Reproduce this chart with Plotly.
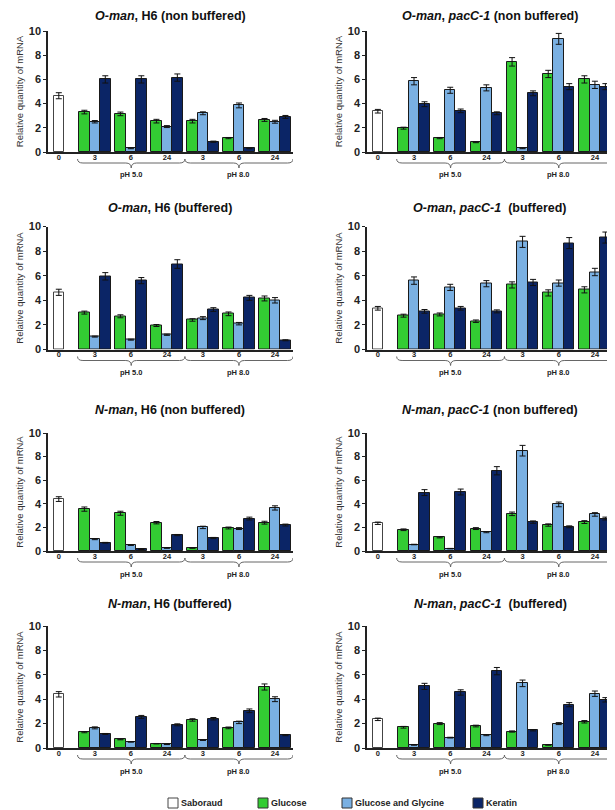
import plotly.graph_objects as go

# the page body has an 8px margin: window px = figure px + 8
OFF = 8
W, H = 615 - OFF, 810 - OFF

# ---------------- data ----------------
time_labels = ["0", "3", "6", "24", "3", "6", "24"]
ph_labels = ["pH 5.0", "pH 8.0"]
series_names = ["Saboraud", "Glucose", "Glucose and Glycine", "Keratin"]

panel_titles = [
    "<i>O-man</i>, H6 (non buffered)",
    "<i>O-man</i>, <i>pacC-1</i> (non buffered)",
    "<i>O-man</i>, H6 (buffered)",
    "<i>O-man</i>, <i>pacC-1</i>  (buffered)",
    "<i>N-man</i>, H6 (non buffered)",
    "<i>N-man</i>, <i>pacC-1</i> (non buffered)",
    "<i>N-man</i>, H6 (buffered)",
    "<i>N-man</i>, <i>pacC-1</i>  (buffered)",
]

# O-man, H6 (non buffered)
oman_h6_nb_sab = [4.65]
oman_h6_nb_sab_err = [0.25]
oman_h6_nb_glc = [3.3, 3.15, 2.55, 2.55, 1.15, 2.65]
oman_h6_nb_glc_err = [0.15, 0.15, 0.15, 0.15, 0.05, 0.12]
oman_h6_nb_gly = [2.5, 0.3, 2.1, 3.2, 3.85, 2.5]
oman_h6_nb_gly_err = [0.1, 0.03, 0.08, 0.12, 0.2, 0.12]
oman_h6_nb_ker = [6.0, 6.0, 6.15, 0.85, 0.3, 2.9]
oman_h6_nb_ker_err = [0.3, 0.3, 0.3, 0.05, 0.03, 0.12]

# O-man, pacC-1 (non buffered)
oman_pac_nb_sab = [3.37]
oman_pac_nb_sab_err = [0.15]
oman_pac_nb_glc = [1.97, 1.15, 0.8, 7.45, 6.45, 6.0]
oman_pac_nb_glc_err = [0.08, 0.05, 0.03, 0.35, 0.3, 0.3]
oman_pac_nb_gly = [5.85, 5.1, 5.3, 0.3, 9.35, 5.55]
oman_pac_nb_gly_err = [0.3, 0.25, 0.25, 0.03, 0.45, 0.3]
oman_pac_nb_ker = [3.95, 3.4, 3.2, 4.85, 5.4, 5.4]
oman_pac_nb_ker_err = [0.2, 0.15, 0.12, 0.2, 0.25, 0.25]

# O-man, H6 (buffered)
oman_h6_b_sab = [4.65]
oman_h6_b_sab_err = [0.25]
oman_h6_b_glc = [3.0, 2.7, 1.95, 2.4, 2.9, 4.15]
oman_h6_b_glc_err = [0.12, 0.12, 0.08, 0.1, 0.15, 0.2]
oman_h6_b_gly = [1.05, 0.8, 1.2, 2.55, 2.1, 4.0]
oman_h6_b_gly_err = [0.04, 0.04, 0.05, 0.12, 0.1, 0.22]
oman_h6_b_ker = [5.95, 5.6, 6.95, 3.25, 4.2, 0.75]
oman_h6_b_ker_err = [0.3, 0.25, 0.35, 0.15, 0.2, 0.04]

# O-man, pacC-1 (buffered)
oman_pac_b_sab = [3.35]
oman_pac_b_sab_err = [0.15]
oman_pac_b_glc = [2.75, 2.85, 2.3, 5.25, 4.6, 4.85]
oman_pac_b_glc_err = [0.12, 0.12, 0.1, 0.25, 0.25, 0.25]
oman_pac_b_gly = [5.6, 5.05, 5.35, 8.75, 5.4, 6.3]
oman_pac_b_gly_err = [0.3, 0.25, 0.25, 0.45, 0.25, 0.3]
oman_pac_b_ker = [3.1, 3.35, 3.1, 5.45, 8.65, 9.1]
oman_pac_b_ker_err = [0.15, 0.15, 0.12, 0.25, 0.45, 0.45]

# N-man, H6 (non buffered)
nman_h6_nb_sab = [4.4]
nman_h6_nb_sab_err = [0.2]
nman_h6_nb_glc = [3.55, 3.2, 2.4, 0.25, 1.95, 2.4]
nman_h6_nb_glc_err = [0.18, 0.17, 0.1, 0.02, 0.08, 0.12]
nman_h6_nb_gly = [1.0, 0.5, 0.25, 2.0, 1.9, 3.65]
nman_h6_nb_gly_err = [0.04, 0.03, 0.02, 0.1, 0.08, 0.18]
nman_h6_nb_ker = [0.7, 0.15, 1.35, 1.1, 2.75, 2.2]
nman_h6_nb_ker_err = [0.03, 0.02, 0.05, 0.05, 0.12, 0.08]

# N-man, pacC-1 (non buffered)
nman_pac_nb_sab = [2.35]
nman_pac_nb_sab_err = [0.1]
nman_pac_nb_glc = [1.8, 1.15, 1.9, 3.15, 2.2, 2.45]
nman_pac_nb_glc_err = [0.07, 0.04, 0.08, 0.15, 0.1, 0.12]
nman_pac_nb_gly = [0.55, 0.2, 1.6, 8.5, 3.95, 3.1]
nman_pac_nb_gly_err = [0.02, 0.02, 0.05, 0.45, 0.2, 0.15]
nman_pac_nb_ker = [4.95, 5.0, 6.8, 2.45, 2.05, 2.75]
nman_pac_nb_ker_err = [0.25, 0.25, 0.35, 0.1, 0.08, 0.12]

# N-man, H6 (buffered)
nman_h6_b_sab = [4.4]
nman_h6_b_sab_err = [0.22]
nman_h6_b_glc = [1.3, 0.7, 0.35, 2.3, 1.65, 5.0]
nman_h6_b_glc_err = [0.05, 0.03, 0.02, 0.1, 0.07, 0.25]
nman_h6_b_gly = [1.65, 0.5, 0.3, 0.65, 2.1, 4.0]
nman_h6_b_gly_err = [0.08, 0.02, 0.02, 0.03, 0.1, 0.2]
nman_h6_b_ker = [1.15, 2.55, 1.9, 2.4, 3.05, 1.05]
nman_h6_b_ker_err = [0.04, 0.12, 0.08, 0.1, 0.15, 0.04]

# N-man, pacC-1 (buffered)
nman_pac_b_sab = [2.35]
nman_pac_b_sab_err = [0.1]
nman_pac_b_glc = [1.7, 2.0, 1.8, 1.35, 0.25, 2.15]
nman_pac_b_glc_err = [0.07, 0.08, 0.07, 0.05, 0.02, 0.1]
nman_pac_b_gly = [0.25, 0.85, 1.05, 5.3, 2.0, 4.45]
nman_pac_b_gly_err = [0.02, 0.03, 0.04, 0.27, 0.08, 0.22]
nman_pac_b_ker = [5.05, 4.55, 6.3, 1.45, 3.55, 3.95]
nman_pac_b_ker_err = [0.25, 0.22, 0.3, 0.05, 0.17, 0.18]

# table for the library, built from the arrays above
panels = [
    (oman_h6_nb_sab, oman_h6_nb_sab_err, oman_h6_nb_glc, oman_h6_nb_glc_err, oman_h6_nb_gly, oman_h6_nb_gly_err, oman_h6_nb_ker, oman_h6_nb_ker_err),
    (oman_pac_nb_sab, oman_pac_nb_sab_err, oman_pac_nb_glc, oman_pac_nb_glc_err, oman_pac_nb_gly, oman_pac_nb_gly_err, oman_pac_nb_ker, oman_pac_nb_ker_err),
    (oman_h6_b_sab, oman_h6_b_sab_err, oman_h6_b_glc, oman_h6_b_glc_err, oman_h6_b_gly, oman_h6_b_gly_err, oman_h6_b_ker, oman_h6_b_ker_err),
    (oman_pac_b_sab, oman_pac_b_sab_err, oman_pac_b_glc, oman_pac_b_glc_err, oman_pac_b_gly, oman_pac_b_gly_err, oman_pac_b_ker, oman_pac_b_ker_err),
    (nman_h6_nb_sab, nman_h6_nb_sab_err, nman_h6_nb_glc, nman_h6_nb_glc_err, nman_h6_nb_gly, nman_h6_nb_gly_err, nman_h6_nb_ker, nman_h6_nb_ker_err),
    (nman_pac_nb_sab, nman_pac_nb_sab_err, nman_pac_nb_glc, nman_pac_nb_glc_err, nman_pac_nb_gly, nman_pac_nb_gly_err, nman_pac_nb_ker, nman_pac_nb_ker_err),
    (nman_h6_b_sab, nman_h6_b_sab_err, nman_h6_b_glc, nman_h6_b_glc_err, nman_h6_b_gly, nman_h6_b_gly_err, nman_h6_b_ker, nman_h6_b_ker_err),
    (nman_pac_b_sab, nman_pac_b_sab_err, nman_pac_b_glc, nman_pac_b_glc_err, nman_pac_b_gly, nman_pac_b_gly_err, nman_pac_b_ker, nman_pac_b_ker_err),
]

# ---------------- style / layout ----------------
FONT = "Liberation Sans, Arial, sans-serif"
colors = ["#ffffff", "#33cc33", "#7ab0e2", "#0b2566"]
line_colors = ["#444444", "#1a1a1a", "#1a1a1a", "#1a1a1a"]
BAR_W = 0.29
offsets = [-BAR_W / 2, -1.5 * BAR_W, -0.5 * BAR_W, 0.5 * BAR_W]
XRANGE = [-0.3, 6.5]

# positions measured in window pixels
col_px = [(48, 293), (367, 613)]
row_top_px = [31, 226.5, 433, 626]
row_bot_px = [152, 349.5, 551, 748]
title_px = [13, 208, 410, 604]
legend_box_px = [168, 258, 342, 473]
LEGEND_Y = 803


def px_x(px):
    return (px - OFF) / W


def px_y(px):
    return 1 - (px - OFF) / H


cat_idx = list(range(len(time_labels)))
group_x = cat_idx[1:]

fig = go.Figure()
layout = dict(
    width=W, height=H, margin=dict(l=0, r=0, t=0, b=0, autoexpand=False),
    paper_bgcolor="white", plot_bgcolor="white",
    font=dict(family=FONT, color="#222"),
    showlegend=False, bargap=0,
)
annotations = []
shapes = []

for i, p in enumerate(panels):
    r, c = divmod(i, 2)
    n = "" if i == 0 else str(i + 1)
    xa, ya = "x" + n, "y" + n
    sab, sab_e, glc, glc_e, gly, gly_e, ker, ker_e = p
    data = [
        ([0], sab, sab_e),
        (group_x, glc, glc_e),
        (group_x, gly, gly_e),
        (group_x, ker, ker_e),
    ]
    for s, (xs, ys, es) in enumerate(data):
        fig.add_trace(go.Bar(
            x=xs, y=ys, name=series_names[s], legendgroup=series_names[s],
            width=BAR_W, offset=offsets[s],
            marker=dict(color=colors[s], line=dict(color=line_colors[s], width=1)),
            error_y=dict(type="data", array=es, visible=True, color="#111",
                         thickness=1, width=3),
            xaxis=xa, yaxis=ya,
        ))
    x0, x1 = col_px[c]
    layout["xaxis" + n] = dict(
        domain=[px_x(x0), px_x(x1)], anchor=ya, range=XRANGE,
        tickmode="array", tickvals=cat_idx, ticktext=time_labels,
        tickfont=dict(size=7.5, family=FONT, color="#222", weight="bold"),
        ticklabelstandoff=-3,
        showline=True, linecolor="#222", linewidth=1.5, ticks="",
        showgrid=False, zeroline=False, fixedrange=True,
    )
    layout["yaxis" + n] = dict(
        domain=[px_y(row_bot_px[r]), px_y(row_top_px[r])], anchor=xa,
        range=[0, 10], tickvals=[0, 2, 4, 6, 8, 10],
        tickfont=dict(size=11, family=FONT, color="#222", weight="bold"),
        showline=True, linecolor="#222", linewidth=1.5, ticks="outside",
        ticklen=3, tickcolor="#222", showgrid=False, zeroline=False,
        title=dict(text="Relative quantity of mRNA", standoff=3,
                   font=dict(size=9.5, family=FONT, color="#333")),
    )
    # title (first row pinned to the top edge so it is not clipped)
    if r == 0:
        ty, tanchor = 1.0, "top"
    else:
        ty, tanchor = px_y(title_px[r]), "middle"
    annotations.append(dict(
        text="<b>" + panel_titles[i] + "</b>", xref="paper", yref="paper",
        x=px_x((x0 + x1) / 2), y=ty, xanchor="center", yanchor=tanchor,
        borderpad=0, showarrow=False, font=dict(size=12.5, family=FONT, color="#111"),
    ))
    # braces + pH labels
    b = row_bot_px[r]
    y_top, y_mid, y_tip = px_y(b + 7), px_y(b + 11), px_y(b + 16)
    for (bx0, bx1), lab in zip([(0.52, 3.5), (3.5, 6.5)], ph_labels):
        xm = (bx0 + bx1) / 2
        d = 0.15
        path = (f"M {bx0},{y_top} Q {bx0},{y_mid} {bx0 + d},{y_mid} "
                f"L {xm - d},{y_mid} Q {xm},{y_mid} {xm},{y_tip} "
                f"Q {xm},{y_mid} {xm + d},{y_mid} L {bx1 - d},{y_mid} "
                f"Q {bx1},{y_mid} {bx1},{y_top}")
        shapes.append(dict(type="path", path=path, xref=xa, yref="paper",
                           line=dict(color="#666", width=1)))
        annotations.append(dict(
            text="<b>" + lab + "</b>", xref=xa, yref="paper", x=xm, y=px_y(b + 23),
            xanchor="center", yanchor="middle", showarrow=False,
            font=dict(size=7.5, family=FONT, color="#222"),
        ))

# legend row (drawn as boxes + labels so it sits exactly at the page bottom)
for s, bx in enumerate(legend_box_px):
    shapes.append(dict(
        type="rect", xref="paper", yref="paper",
        x0=px_x(bx), x1=px_x(bx + 10), y0=px_y(LEGEND_Y + 5), y1=px_y(LEGEND_Y - 5),
        fillcolor=colors[s], line=dict(color="#444" if s == 0 else "#333", width=1),
    ))
    annotations.append(dict(
        text="<b>" + series_names[s] + "</b>", xref="paper", yref="paper",
        x=px_x(bx + 11), y=px_y(LEGEND_Y), xanchor="left", yanchor="middle",
        showarrow=False, font=dict(size=9, family=FONT, color="#222"),
    ))

layout["annotations"] = annotations
layout["shapes"] = shapes
fig.update_layout(**layout)
fig.write_html("out.html")
